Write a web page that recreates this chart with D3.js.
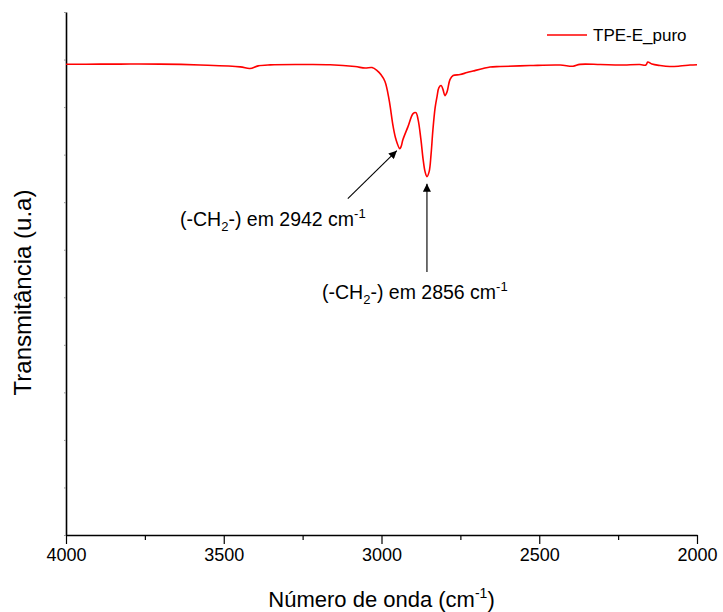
<!DOCTYPE html>
<html>
<head>
<meta charset="utf-8">
<script src="https://cdn.jsdelivr.net/npm/d3@7"></script>
<style>
  html, body { margin: 0; padding: 0; background: #fff; }
  svg text { font-family: "Liberation Sans", Arial, sans-serif; }
</style>
</head>
<body>
<svg id="chart" width="723" height="612"></svg>
<script>
// FTIR spectrum of TPE-E_puro (wavenumber in cm-1, transmittance in arbitrary units)
const wavenumber = [
  4000, 3892, 3797, 3702, 3575, 3448, 3417, 3391, 3353, 3258,
  3163, 3084, 3052, 3030, 3014, 3002, 2989, 2976, 2963, 2954,
  2942, 2938, 2932, 2916, 2900, 2891, 2884, 2875, 2868, 2862,
  2856, 2849, 2843, 2837, 2830, 2824, 2818, 2811, 2805, 2799,
  2792, 2783, 2773, 2751, 2729, 2710, 2678, 2656, 2624, 2529,
  2434, 2393, 2371, 2307, 2244, 2181, 2162, 2156, 2143, 2117,
  2086, 2054, 2022, 2000
];
const transmittance = [
  99.00, 99.03, 99.05, 99.03, 98.84, 98.46, 98.11, 98.67, 98.88, 98.95,
  98.91, 98.53, 98.21, 98.32, 97.68, 96.84, 95.37, 91.58, 85.89, 83.16,
  81.26, 81.68, 83.16, 85.89, 88.63, 88.84, 87.37, 83.16, 78.95, 76.42,
  75.37, 76.42, 80.00, 85.26, 89.89, 92.21, 94.11, 94.53, 93.68, 92.42,
  93.26, 95.79, 96.63, 96.84, 97.26, 97.58, 98.11, 98.42, 98.53, 98.74,
  98.84, 98.59, 98.99, 98.95, 98.84, 98.95, 98.84, 99.47, 99.05, 98.74,
  98.53, 98.63, 98.84, 98.91
];
const seriesName = "TPE-E_puro";
const xMajorTicks = [4000, 3500, 3000, 2500, 2000];
const xMinorTicks = [3750, 3250, 2750, 2250];
const yTicks = [0, 10, 20, 30, 40, 50, 60, 70, 80, 90, 100, 110];
const peaks = [
  { wn: 2942, label: "2942" },
  { wn: 2856, label: "2856" }
];

const svg = d3.select("#chart");
const plotLeft = 66, plotRight = 697, plotTop = 12, plotBottom = 535;

const x = d3.scaleLinear().domain([4000, 2000]).range([plotLeft, plotRight]);
const y = d3.scaleLinear().domain([0, 110]).range([plotBottom, plotTop]);

// axes
const xAxis = svg.append("g")
  .attr("transform", `translate(0,${plotBottom})`)
  .call(d3.axisBottom(x).tickValues(xMajorTicks).tickFormat(d3.format("d"))
    .tickSize(9).tickPadding(4).tickSizeOuter(0));
xAxis.selectAll("text").attr("font-size", 18).attr("fill", "#000")
  .style("font-family", "'Liberation Sans', Arial, sans-serif");
xAxis.select(".domain").attr("stroke", "#000").attr("stroke-width", 1.6);
xAxis.selectAll(".tick line").attr("stroke", "#000").attr("stroke-width", 1.2);

const xMinor = svg.append("g")
  .attr("transform", `translate(0,${plotBottom})`)
  .call(d3.axisBottom(x).tickValues(xMinorTicks).tickSize(5).tickFormat("").tickSizeOuter(0));
xMinor.select(".domain").remove();
xMinor.selectAll(".tick line").attr("stroke", "#000").attr("stroke-width", 1.2);

const yAxis = svg.append("g")
  .attr("transform", `translate(${plotLeft},0)`)
  .call(d3.axisLeft(y).tickValues(yTicks).tickSize(2).tickFormat("").tickSizeOuter(0));
yAxis.select(".domain").attr("stroke", "#000").attr("stroke-width", 1.6);
yAxis.selectAll(".tick line").attr("stroke", "#999").attr("stroke-width", 1);

// axis titles
const xTitle = svg.append("text")
  .attr("x", (plotLeft + plotRight) / 2).attr("y", 607)
  .attr("text-anchor", "middle").attr("font-size", 22).attr("fill", "#000");
xTitle.append("tspan").text("Número de onda (cm");
xTitle.append("tspan").attr("font-size", 14).attr("dy", -9).text("-1");
xTitle.append("tspan").attr("dy", 9).text(")");

svg.append("text")
  .attr("transform", `translate(31,${(plotTop + plotBottom) / 2 + 19}) rotate(-90)`)
  .attr("text-anchor", "middle").attr("font-size", 24).attr("fill", "#000")
  .text("Transmitância (u.a)");

// spectrum
const line = d3.line()
  .x((d, i) => x(wavenumber[i]))
  .y((d, i) => y(transmittance[i]))
  .curve(d3.curveCatmullRom.alpha(0.5));

svg.append("path")
  .datum(wavenumber)
  .attr("d", line)
  .attr("fill", "none")
  .attr("stroke", "#ff0000")
  .attr("stroke-width", 1.6);

// legend
svg.append("line")
  .attr("x1", 547).attr("x2", 587).attr("y1", 35).attr("y2", 35)
  .attr("stroke", "#ff0000").attr("stroke-width", 1.5);
svg.append("text")
  .attr("x", 593).attr("y", 41).attr("font-size", 17).attr("fill", "#000")
  .text(seriesName);

// peak annotations
const defs = svg.append("defs");
defs.append("marker")
  .attr("id", "head")
  .attr("viewBox", "0 0 10 10")
  .attr("refX", 10).attr("refY", 5)
  .attr("markerWidth", 8).attr("markerHeight", 8)
  .attr("markerUnits", "userSpaceOnUse")
  .attr("orient", "auto")
  .append("path").attr("d", "M0,0 L10,5 L0,10 Z").attr("fill", "#000");

function valueAt(wn) {
  return transmittance[wavenumber.indexOf(wn)];
}

function annotation(g, tx, ty, wnText) {
  const t = g.append("text")
    .attr("x", tx).attr("y", ty).attr("font-size", 19.5).attr("fill", "#000");
  t.append("tspan").text("(-CH");
  t.append("tspan").attr("font-size", 13).attr("dy", 5).text("2");
  t.append("tspan").attr("dy", -5).text("-) em " + wnText + " cm");
  t.append("tspan").attr("font-size", 13).attr("dy", -8).text("-1");
}

const p1 = peaks[0], p2 = peaks[1];
const a1x = x(p1.wn), a1y = y(valueAt(p1.wn));
svg.append("line")
  .attr("x1", a1x - 52).attr("y1", a1y + 50)
  .attr("x2", a1x - 3).attr("y2", a1y + 2)
  .attr("stroke", "#000").attr("stroke-width", 1.1)
  .attr("marker-end", "url(#head)");
annotation(svg, 180, 226, p1.label);

const a2x = x(p2.wn), a2y = y(valueAt(p2.wn));
svg.append("line")
  .attr("x1", a2x).attr("y1", 272)
  .attr("x2", a2x).attr("y2", a2y + 7)
  .attr("stroke", "#333").attr("stroke-width", 1.4)
  .attr("marker-end", "url(#head)");
annotation(svg, 322, 299, p2.label);
</script>
</body>
</html>
